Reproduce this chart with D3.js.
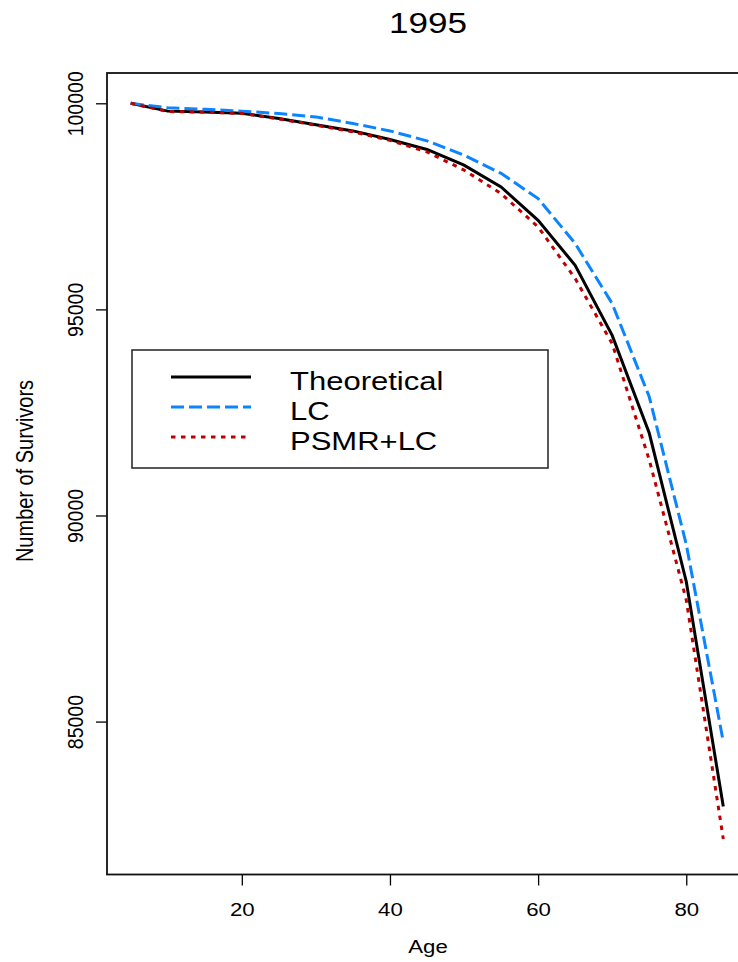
<!DOCTYPE html>
<html>
<head>
<meta charset="utf-8">
<script src="https://cdn.jsdelivr.net/npm/d3@7"></script>
<style>
  body { margin: 0; background: #fff; overflow: hidden; }
  svg { display: block; font-family: "Liberation Sans", Arial, sans-serif; }
</style>
</head>
<body>
<div id="plot"></div>
<script>
// data
const ages = [5, 10, 15, 20, 25, 30, 35, 40, 45, 50, 55, 60, 65, 70, 75, 80, 85];
const theoretical = [100000, 99810, 99790, 99760, 99630, 99480, 99330, 99120, 98880, 98500, 97970, 97160, 96070, 94370, 92000, 88400, 82940];
const lc = [100000, 99890, 99855, 99810, 99750, 99670, 99510, 99330, 99090, 98740, 98300, 97690, 96600, 95140, 92880, 89300, 84510];
const psmrLc = [100000, 99800, 99785, 99755, 99620, 99470, 99310, 99100, 98820, 98380, 97810, 97000, 95750, 94170, 91350, 87950, 82150];
const seriesNames = ["Theoretical", "LC", "PSMR+LC"];
const xTicks = [20, 40, 60, 80];
const yTicks = [85000, 90000, 95000, 100000];

const colors = ["#000000", "#0a84ff", "#c00000"];
const dashes = [null, "13,5", "4.5,5.5"];

// the original picture is stretched a bit horizontally
const sx = 1.17;

const W = 738, H = 962;
const margin = {top: 73, left: 107};
const width = 640, height = 801.5;

const svg = d3.select("div#plot")
  .append("svg")
  .attr("width", W)
  .attr("height", H);

const g = svg.append("g")
  .attr("transform", `translate(${margin.left},${margin.top})`);

// R style 4% padding on both axes
const x = d3.scaleLinear().domain([1.8, 88.2]).range([0, width]);
const y = d3.scaleLinear().domain([81290, 100735]).range([height, 0]);

// x axis
const xAxis = g.append("g")
  .attr("transform", `translate(0,${height})`)
  .call(d3.axisBottom(x).tickValues(xTicks).tickSize(11).tickPadding(0).tickFormat(d3.format("d")));
xAxis.select(".domain").remove();
xAxis.selectAll("line").attr("stroke", "#000").attr("stroke-width", 1.3);
xAxis.selectAll("text")
  .attr("y", 0).attr("dy", null)
  .attr("transform", `translate(0,41) scale(${sx},1)`)
  .attr("fill", "#000")
  .style("font-size", "19px");

// y axis
const yAxis = g.append("g")
  .call(d3.axisLeft(y).tickValues(yTicks).tickSize(11).tickFormat(d3.format("d")));
yAxis.select(".domain").remove();
yAxis.selectAll("line").attr("stroke", "#000").attr("stroke-width", 1.3);
yAxis.selectAll("text")
  .attr("x", 0).attr("dy", null)
  .attr("text-anchor", "middle")
  .attr("transform", `translate(-24,0) scale(${sx},1) rotate(-90)`)
  .attr("fill", "#000")
  .style("font-size", "19.5px");

// frame
g.append("rect")
  .attr("x", 0).attr("y", 0)
  .attr("width", width).attr("height", height)
  .attr("fill", "none")
  .attr("stroke", "#111")
  .attr("stroke-width", 1.8);

// lines
const line = d3.line()
  .x((d, i) => x(ages[i]))
  .y(d => y(d));

[theoretical, lc, psmrLc].forEach((s, k) => {
  g.append("path")
    .datum(s)
    .attr("d", line)
    .attr("fill", "none")
    .attr("stroke", colors[k])
    .attr("stroke-width", 3)
    .attr("stroke-dasharray", dashes[k]);
});

// title and axis labels
svg.append("text")
  .attr("text-anchor", "middle")
  .attr("transform", `translate(428,33) scale(${sx},1)`)
  .style("font-size", "30px")
  .text("1995");

svg.append("text")
  .attr("text-anchor", "middle")
  .attr("transform", `translate(428,953) scale(${sx},1)`)
  .style("font-size", "19px")
  .text("Age");

svg.append("text")
  .attr("text-anchor", "middle")
  .attr("transform", `translate(33,471) scale(${sx},1) rotate(-90)`)
  .style("font-size", "20px")
  .text("Number of Survivors");

// legend
const legend = svg.append("g").attr("transform", "translate(132,350)");
legend.append("rect")
  .attr("width", 416).attr("height", 118)
  .attr("fill", "#fff")
  .attr("stroke", "#222")
  .attr("stroke-width", 1.5);

const rows = legend.selectAll("g.row")
  .data(seriesNames)
  .enter().append("g")
  .attr("class", "row")
  .attr("transform", (d, i) => `translate(0,${27 + i * 30})`);

rows.append("line")
  .attr("x1", 39).attr("x2", 119)
  .attr("stroke", (d, i) => colors[i])
  .attr("stroke-width", 3)
  .attr("stroke-dasharray", (d, i) => dashes[i]);

rows.append("text")
  .attr("transform", `translate(158,13) scale(${sx},1)`)
  .style("font-size", "26.5px")
  .text(d => d);
</script>
</body>
</html>
